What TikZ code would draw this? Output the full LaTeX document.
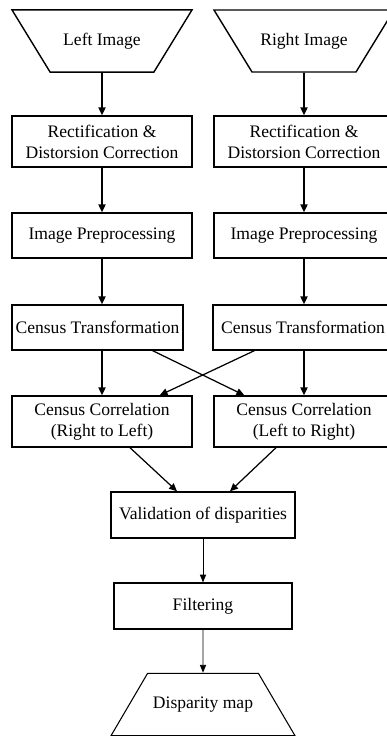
\documentclass[tikz,border=0pt]{standalone}
\usepackage{fontspec}
\setmainfont{Liberation Serif}
\usepackage{tikz}
\usetikzlibrary{shapes.geometric,arrows.meta}

\tikzset{
  blok/.style={draw, line width=0.8pt, minimum width=3.6cm, minimum height=1.02cm, align=center, inner sep=1pt},
  inout/.style={draw, line width=0.8pt, trapezium, trapezium left angle=58.5, trapezium right angle=58.5,
    trapezium stretches body, minimum width=3.6cm, inner xsep=1pt, inner ysep=0.46cm},
  pil/.style={-{Triangle[length=4.5pt,width=4pt]}, line width=1pt},
  tynnpil/.style={-{Triangle[length=4.5pt,width=3.5pt]}, line width=0.5pt},
}

\begin{document}
\begin{tikzpicture}
  \useasboundingbox (0,0) rectangle (7.74,14.72);
  %% Venstre og hoyre bilde
  \node[inout, shape border rotate=180] (limg) at (2.04,13.90) {Left Image};
  \node[inout, shape border rotate=180] (rimg) at (6.08,13.90) {Right Image};

  % Venstre kolonne
  \node[blok] (lrect) at (2.04,11.89) {Rectification \&\\Distorsion Correction};
  \node[blok, minimum height=0.90cm] (lpre) at (2.04,10.01) {Image Preprocessing};
  \node[blok, minimum height=0.90cm, minimum width=3.42cm] (lcen) at (1.95,8.17) {Census Transformation};
  \node[blok] (lcor) at (2.04,6.29) {Census Correlation\\(Right to Left)};

  % Hoyre kolonne
  \node[blok] (rrect) at (6.08,11.89) {Rectification \&\\Distorsion Correction};
  \node[blok, minimum height=0.90cm] (rpre) at (6.08,10.01) {Image Preprocessing};
  \node[blok, minimum height=0.90cm] (rcen) at (6.06,8.17) {Census Transformation};
  \node[blok] (rcor) at (6.08,6.29) {Census Correlation\\(Left to Right)};

  %% Felles del
  \node[blok, minimum height=0.92cm, minimum width=3.68cm] (valid) at (4.06,4.42) {Validation of disparities};
  \node[blok, minimum height=0.92cm, minimum width=3.56cm, line width=0.6pt] (filt) at (4.06,2.60) {Filtering};
  \node[inout, trapezium left angle=59.6, trapezium right angle=59.6, minimum width=3.68cm,
    inner ysep=0.47cm, line width=0.6pt] (disp) at (4.06,0.63) {Disparity map};

  % Piler
  \draw[pil] (limg) -- (lrect);
  \draw[pil] (lrect) -- (lpre);
  \draw[pil] (lpre) -- (lpre |- lcen.north);
  \draw[pil] (lpre |- lcen.south) -- (lcor);
  \draw[pil] (rimg) -- (rrect);
  \draw[pil] (rrect) -- (rpre);
  \draw[pil] (rpre) -- (rpre |- rcen.north);
  \draw[pil] (rpre |- rcen.south) -- (rcor);

  \draw[pil, line width=0.7pt] ([xshift=-0.62cm]lcen.south east) -- ([xshift=0.62cm]rcor.north west);
  \draw[pil, line width=0.7pt] ([xshift=0.84cm]rcen.south west) -- ([xshift=-0.66cm]lcor.north east);

  \draw[pil, line width=0.7pt] ([xshift=0.56cm]lcor.south) -- ([xshift=-0.52cm]valid.north);
  \draw[pil, line width=0.7pt] ([xshift=-0.56cm]rcor.south) -- ([xshift=0.54cm]valid.north);

  \draw[tynnpil] (valid) -- (filt);
  \draw[tynnpil] (filt) -- (disp);
\end{tikzpicture}
\end{document}
